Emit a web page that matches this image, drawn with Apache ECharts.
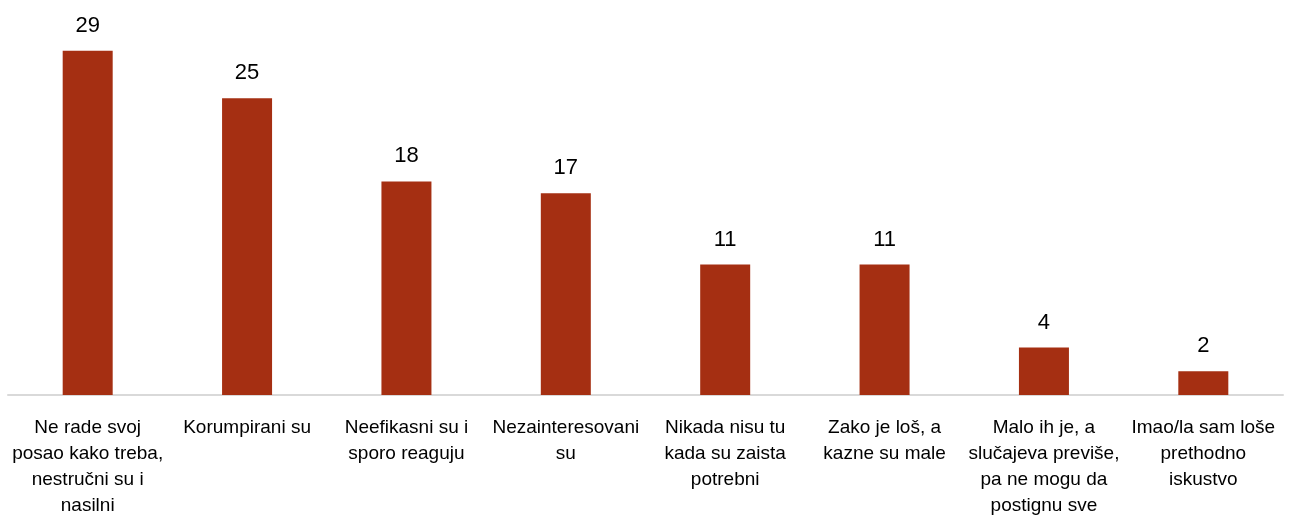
<!DOCTYPE html>
<html>
<head>
<meta charset="utf-8">
<script src="https://cdn.jsdelivr.net/npm/echarts@6/dist/echarts.min.js"></script>
<style>
  html, body { margin: 0; padding: 0; background: #fff; }
  #chart { width: 1295px; height: 521px; }
</style>
</head>
<body>
<div id="chart"></div>
<script>
// Kategorije (prelomi redova kao na slici)
const categories = [
  "Ne rade svoj\nposao kako treba,\nnestručni su i\nnasilni",
  "Korumpirani su",
  "Neefikasni su i\nsporo reaguju",
  "Nezainteresovani\nsu",
  "Nikada nisu tu\nkada su zaista\npotrebni",
  "Zako je loš, a\nkazne su male",
  "Malo ih je, a\nslučajeva previše,\npa ne mogu da\npostignu sve",
  "Imao/la sam loše\nprethodno\niskustvo"
];
const values = [29, 25, 18, 17, 11, 11, 4, 2];

const chart = echarts.init(document.getElementById("chart"));

const font = '"Liberation Sans", Arial, sans-serif';

const option = {
  animation: false,
  grid: { left: 8, right: 12, top: 39, bottom: 126, outerBoundsMode: "none" },
  xAxis: {
    type: "category",
    data: categories,
    axisLine: { lineStyle: { color: "#D9D9D9", width: 2 } },
    axisTick: { show: false },
    axisLabel: {
      interval: 0,
      margin: 20,
      color: "#000",
      fontFamily: font,
      fontSize: 19,
      lineHeight: 26
    }
  },
  yAxis: {
    type: "value",
    min: 0,
    max: 30,
    show: false
  },
  series: [
    {
      type: "bar",
      data: values,
      barWidth: 50,
      itemStyle: { color: "#A52F12" },
      label: {
        show: true,
        position: "top",
        distance: 14,
        color: "#000",
        fontFamily: font,
        fontSize: 22
      }
    }
  ]
};

chart.setOption(option);
</script>
</body>
</html>
